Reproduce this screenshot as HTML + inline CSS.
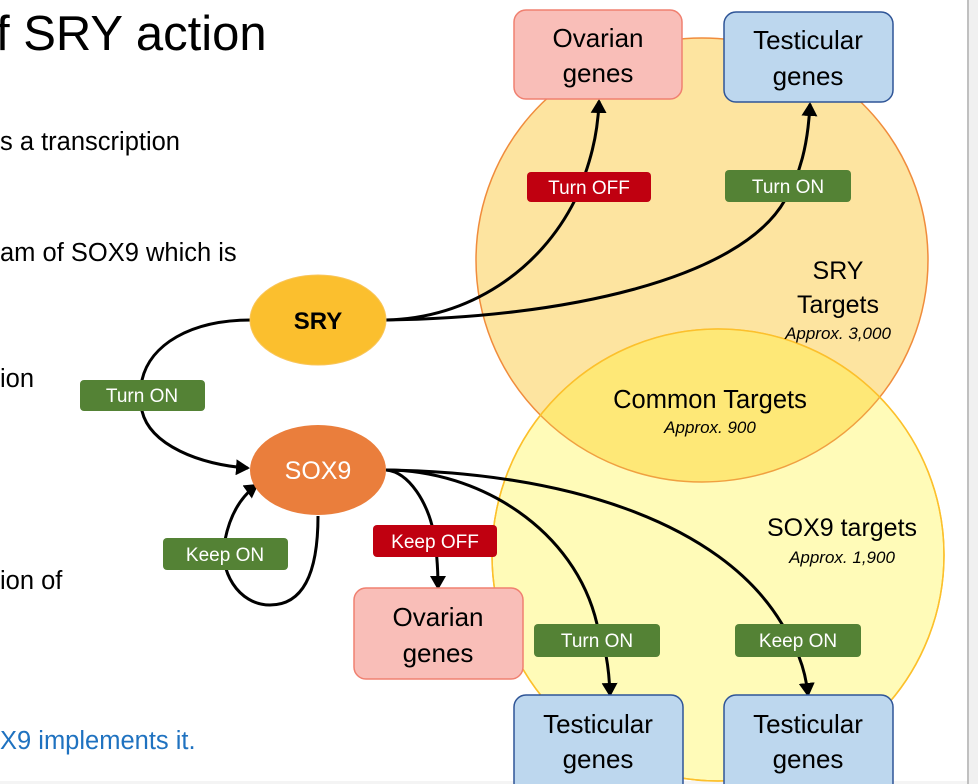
<!DOCTYPE html>
<html><head><meta charset="utf-8"><style>
html,body{margin:0;padding:0;background:#fff;}
body{width:978px;height:784px;overflow:hidden;position:relative;font-family:"Liberation Sans",sans-serif;}
svg{position:absolute;left:0;top:0;}
</style></head><body>
<svg width="978" height="784" viewBox="0 0 978 784" font-family="Liberation Sans, sans-serif">
<defs>
<marker id="ar" markerWidth="14" markerHeight="16" refX="12" refY="8" orient="auto" markerUnits="userSpaceOnUse" viewBox="0 0 14 16">
<path d="M0,0 L14,8 L0,16 z" fill="#000"/></marker>
<clipPath id="cs"><ellipse cx="718" cy="555" rx="226" ry="226"/></clipPath>
</defs>
<rect x="969" y="0" width="9" height="784" fill="#f0f0f0"/>
<rect x="967" y="0" width="2" height="784" fill="#c0c0c0"/>
<rect x="0" y="781" width="967" height="3" fill="#f4f4f4"/>
<text x="-4" y="50" font-size="49" fill="#000">f SRY action</text>
<g font-size="25.5" fill="#000">
<text x="0" y="150">s a transcription</text>
<text x="0" y="261">am of SOX9 which is</text>
<text x="0" y="387">ion</text>
<text x="0" y="589">ion of</text>
</g>
<text x="0" y="749" font-size="25.5" fill="#1f72c0">X9 implements it.</text>
<ellipse cx="702" cy="260" rx="226" ry="222" fill="#fde4a0" stroke="#f08c3c" stroke-width="1.5"/>
<ellipse cx="718" cy="555" rx="226" ry="226" fill="#fffbb8" stroke="#fcc02c" stroke-width="1.5"/>
<ellipse cx="702" cy="260" rx="226" ry="222" fill="#fee877" stroke="#f0a040" stroke-width="1.5" clip-path="url(#cs)"/>
<ellipse cx="718" cy="555" rx="226" ry="226" fill="none" stroke="#fcc02c" stroke-width="1.5"/>
<text x="838" y="279" font-size="25" text-anchor="middle">SRY</text>
<text x="838" y="313" font-size="25" text-anchor="middle">Targets</text>
<text x="838" y="339" font-size="17" font-style="italic" text-anchor="middle">Approx. 3,000</text>
<text x="710" y="408" font-size="25.5" text-anchor="middle">Common Targets</text>
<text x="710" y="433" font-size="17" font-style="italic" text-anchor="middle">Approx. 900</text>
<text x="842" y="536" font-size="25" text-anchor="middle">SOX9 targets</text>
<text x="842" y="563" font-size="17" font-style="italic" text-anchor="middle">Approx. 1,900</text>
<g fill="none" stroke="#000" stroke-width="3">
<path d="M251,320 C190,320 150,345 142,380 L142,411 C150,445 200,465 248,468" marker-end="url(#ar)"/>
<path d="M386,320 C470,318 540,270 575,200 C590,165 598,135 599,101" marker-end="url(#ar)"/>
<path d="M386,320 C560,318 740,280 785,200 C800,175 808,145 810,104" marker-end="url(#ar)"/>
<path d="M318,516 C318,570 305,605 270,605 C238,605 218,570 225,540 C230,515 240,497 257,485" marker-end="url(#ar)"/>
<path d="M386,470 C410,472 428,505 433,530 C437,550 438,570 438,588" marker-end="url(#ar)"/>
<path d="M386,470 C480,470 575,530 597,624 C605,645 609,665 610,695" marker-end="url(#ar)"/>
<path d="M386,470 C560,472 720,520 782,624 C795,645 805,665 808,695" marker-end="url(#ar)"/>
</g>
<ellipse cx="318" cy="320" rx="68" ry="45" fill="#fbbf2e" stroke="#f9c55a" stroke-width="1"/>
<text x="318" y="329" font-size="24" font-weight="bold" text-anchor="middle">SRY</text>
<ellipse cx="318" cy="470" rx="68" ry="45" fill="#ea7e3c"/>
<text x="318" y="479" font-size="25" fill="#fff" text-anchor="middle">SOX9</text>
<g font-size="26" text-anchor="middle" fill="#000">
<rect x="514" y="10" width="168" height="89" rx="12" fill="#f9beb8" stroke="#f08070" stroke-width="1.5"/>
<text x="598" y="47">Ovarian</text><text x="598" y="82">genes</text>
<rect x="724" y="12" width="169" height="90" rx="12" fill="#bdd7ee" stroke="#2f5597" stroke-width="1.5"/>
<text x="808" y="49">Testicular</text><text x="808" y="85">genes</text>
<rect x="354" y="588" width="169" height="91" rx="12" fill="#f9beb8" stroke="#f08070" stroke-width="1.5"/>
<text x="438" y="626">Ovarian</text><text x="438" y="662">genes</text>
<rect x="514" y="695" width="169" height="100" rx="12" fill="#bdd7ee" stroke="#2f5597" stroke-width="1.5"/>
<text x="598" y="733">Testicular</text><text x="598" y="768">genes</text>
<rect x="724" y="695" width="169" height="100" rx="12" fill="#bdd7ee" stroke="#2f5597" stroke-width="1.5"/>
<text x="808" y="733">Testicular</text><text x="808" y="768">genes</text>
</g>
<g font-size="19" fill="#fff" text-anchor="middle">
<rect x="527" y="172" width="124" height="30" rx="4" fill="#c00010"/><text x="589" y="194">Turn OFF</text>
<rect x="725" y="170" width="126" height="32" rx="4" fill="#548235"/><text x="788" y="193">Turn ON</text>
<rect x="80" y="380" width="125" height="31" rx="4" fill="#548235"/><text x="142" y="402">Turn ON</text>
<rect x="163" y="538" width="125" height="32" rx="4" fill="#548235"/><text x="225" y="561">Keep ON</text>
<rect x="373" y="525" width="124" height="32" rx="4" fill="#c00010"/><text x="435" y="548">Keep OFF</text>
<rect x="534" y="624" width="126" height="33" rx="4" fill="#548235"/><text x="597" y="647">Turn ON</text>
<rect x="735" y="624" width="126" height="33" rx="4" fill="#548235"/><text x="798" y="647">Keep ON</text>
</g>
</svg>
</body></html>
